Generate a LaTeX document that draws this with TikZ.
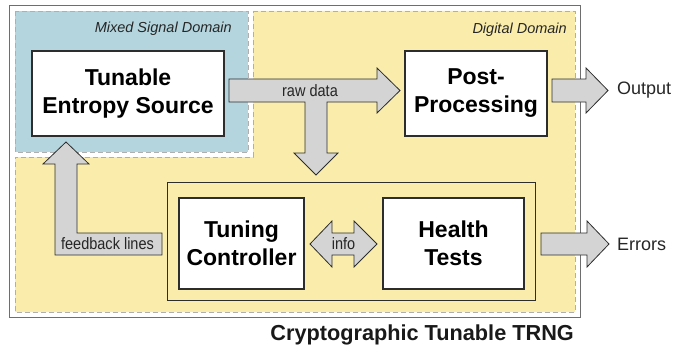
\documentclass[tikz,border=0pt]{standalone}
\usepackage{fontspec}
\setmainfont{Liberation Sans}
\newfontfamily\condfont[FakeStretch=0.88]{Liberation Sans}
\definecolor{mixblue}{RGB}{180,213,222}
\definecolor{digyellow}{RGB}{250,237,172}
\definecolor{arrowgray}{RGB}{212,212,212}
\definecolor{edgedark}{RGB}{45,45,45}
\definecolor{framegray}{RGB}{110,110,110}
\definecolor{dashgray}{RGB}{175,175,175}
\tikzset{
  blockbox/.style={draw=edgedark, line width=1.6pt, fill=white, inner sep=0pt,
    align=center, font=\fontsize{23}{28}\selectfont\bfseries},
  fatarrow/.style={draw=edgedark, line width=0.8pt, fill=arrowgray, line join=miter},
  domborder/.style={draw=dashgray, line width=0.9pt, dash pattern=on 5pt off 3pt},
  domlabel/.style={font=\fontsize{14.5}{17}\selectfont\itshape, text=black!85, inner sep=0pt, anchor=base east},
  arrlabel/.style={font=\condfont\fontsize{16.5}{19}\selectfont, text=black!85, inner sep=0pt},
  outlabel/.style={font=\fontsize{18}{21}\selectfont, text=black!85, inner sep=0pt, anchor=west}
}
\begin{document}
\begin{tikzpicture}[x=1pt,y=-1pt]
\useasboundingbox (0,0) rectangle (684,345);
% outer frame
\draw[framegray, line width=1pt] (9,6) rectangle (580,317);
% domains
\fill[mixblue] (15,11) rectangle (248,152);
\draw[domborder] (15,11) rectangle (248,152);
\fill[digyellow] (253,11) -- (575,11) -- (575,312) -- (15,312) -- (15,157) -- (253,157) -- cycle;
\draw[domborder] (253,11) -- (575,11) -- (575,312) -- (15,312) -- (15,157) -- (253,157) -- cycle;
\node[domlabel] (mixlab) at (232,33) {Mixed Signal Domain};
\node[domlabel] (diglab) at (567,34) {Digital Domain};
% inner group frame
\draw[edgedark, line width=0.8pt, fill=digyellow] (167,182) rectangle (535,300);
% boxes
\node[blockbox, minimum width=192pt, minimum height=85pt] (src) at (128,93.5) {Tunable\\Entropy Source};
\node[blockbox, minimum width=142pt, minimum height=85pt] (post) at (476,93.5) {Post-\\Processing};
\node[blockbox, minimum width=125pt, minimum height=91pt] (tune) at (241.5,243.5) {Tuning\\Controller};
\node[blockbox, minimum width=141pt, minimum height=91pt] (health) at (453.5,243.5) {Health\\Tests};
% raw data T arrow
\draw[fatarrow] (229,79) -- (377,79) -- (377,68) -- (400,90.5) -- (377,113) -- (377,102)
  -- (327,102) -- (327,153) -- (338,153) -- (316,175) -- (294,153) -- (305,153)
  -- (305,102) -- (229,102) -- cycle;
\node[arrlabel] (raw) at (310,90.5) {raw data};
% output arrow
\draw[fatarrow] (552,79) -- (586,79) -- (586,68) -- (608,90.5) -- (586,113) -- (586,102) -- (552,102) -- cycle;
\node[outlabel] (out) at (617,90.5) {Output};
% errors arrow
\draw[fatarrow] (541,233) -- (587,233) -- (587,221) -- (609,244) -- (587,267) -- (587,255) -- (541,255) -- cycle;
\node[outlabel] (err) at (617,244) {Errors};
% info arrow
\draw[fatarrow] (310,244) -- (332,221) -- (332,233) -- (354,233) -- (354,221) -- (377,244)
  -- (354,267) -- (354,255) -- (332,255) -- (332,267) -- cycle;
\node[arrlabel] (info) at (343.5,244) {info};
% feedback arrow
\draw[fatarrow] (55,255) -- (162,255) -- (162,233) -- (77,233) -- (77,164) -- (89,164)
  -- (66,142) -- (43,164) -- (55,164) -- cycle;
\node[arrlabel] (fb) at (107.5,244) {feedback lines};
% title
\node[font=\fontsize{21.7}{26}\selectfont\bfseries, inner sep=0pt, anchor=base east, text=black!90] (title) at (574,340) {Cryptographic Tunable TRNG};
\end{tikzpicture}
\end{document}
